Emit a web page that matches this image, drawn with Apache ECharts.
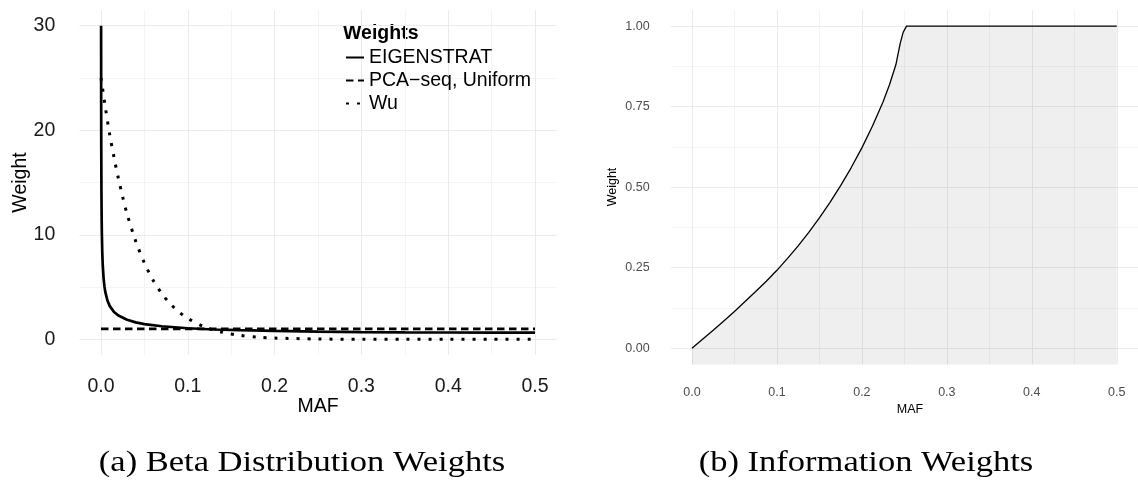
<!DOCTYPE html>
<html><head><meta charset="utf-8">
<script src="https://cdn.jsdelivr.net/npm/echarts@6/dist/echarts.min.js"></script>
<style>html,body{margin:0;padding:0;background:#fff}#c{width:1138px;height:482px}</style>
</head><body><div id="c"></div>
<script>
// ---- tick positions ----
const mafTicks = [0, 0.1, 0.2, 0.3, 0.4, 0.5];
const mafMinor = [0.05, 0.15, 0.25, 0.35, 0.45];
const betaTicks = [0, 10, 20, 30];
const betaMinor = [5, 15, 25];
const infoTicks = [0, 0.25, 0.5, 0.75, 1];
const infoMinor = [0.125, 0.375, 0.625, 0.875];

// ---- legend / series names ----
const betaNames = ['EIGENSTRAT', 'PCA\u2212seq, Uniform', 'Wu'];

// ---- (a) Beta distribution weights ----
const eigenMaf = [0.000113, 0.0002, 0.0003, 0.0005, 0.00075, 0.001, 0.0015, 0.002, 0.003, 0.004, 0.005, 0.0075, 0.01, 0.015, 0.02, 0.03, 0.04, 0.05, 0.07, 0.1, 0.13, 0.16, 0.2, 0.25, 0.3, 0.35, 0.4, 0.45, 0.5];
const eigenWeight = [30.0, 22.5, 18.4, 14.2, 11.6, 10.07, 8.23, 7.13, 5.82, 5.04, 4.51, 3.69, 3.20, 2.62, 2.27, 1.87, 1.62, 1.46, 1.25, 1.06, 0.94, 0.87, 0.80, 0.735, 0.695, 0.668, 0.65, 0.64, 0.637];

const uniformMaf = [0, 0.5];
const uniformWeight = [1, 1];

const wuMaf = [0, 0.005, 0.01, 0.015, 0.02, 0.025, 0.03, 0.04, 0.05, 0.06, 0.07, 0.08, 0.09, 0.1, 0.12, 0.14, 0.16, 0.18, 0.2, 0.25, 0.3, 0.35, 0.4, 0.45, 0.5];
const wuWeight = [25, 22.2, 19.6, 17.4, 15.4, 13.6, 12.0, 9.39, 7.30, 5.66, 4.38, 3.38, 2.60, 2.00, 1.16, 0.67, 0.38, 0.21, 0.12, 0.03, 0.005, 0, 0, 0, 0];

// ---- (b) Information weights ----
const infoMaf = [0, 0.0125, 0.025, 0.0375, 0.05, 0.0625, 0.075, 0.0875, 0.1, 0.1125, 0.125, 0.1375, 0.15, 0.1625, 0.175, 0.1875, 0.2, 0.2125, 0.225, 0.2325, 0.24, 0.245, 0.2485, 0.2525, 0.3, 0.4, 0.5];
const infoWeight = [0, 0.028, 0.056, 0.085, 0.114, 0.145, 0.176, 0.208, 0.242, 0.279, 0.318, 0.360, 0.405, 0.453, 0.505, 0.561, 0.622, 0.690, 0.765, 0.818, 0.880, 0.945, 0.980, 1, 1, 1, 1];

const zip = (xs, ys) => xs.map((x, i) => [x, ys[i]]);

const SANS = '"Liberation Sans", Arial, sans-serif';
const SERIF = '"Liberation Serif", serif';
const MAJOR = '#ebebeb', MINOR = '#f4f4f4';

function axis(grid, min, max, vals, opt) {
  const major = opt.major;
  return {
    type: 'value', gridIndex: grid, min: min, max: max,
    axisLine: { show: false },
    axisTick: { show: false, customValues: vals },
    axisLabel: major ? {
      show: true, customValues: vals, margin: opt.margin,
      color: opt.color, fontSize: opt.fontSize, fontFamily: SANS,
      formatter: opt.fmt
    } : { show: false },
    splitLine: { show: true, lineStyle: { color: major ? MAJOR : MINOR, width: 1 } },
    splitArea: { show: false },
    z: major ? 1 : 0
  };
}

const chart = echarts.init(document.getElementById('c'), null, { renderer: 'canvas' });
const LBL = { color: '#1a1a1a', fontSize: 19.5 };
const LBL2 = { color: '#4d4d4d', fontSize: 12.5 };
const HIDE = { color: 'rgba(0,0,0,0)', opacity: 0, borderWidth: 0 };

chart.setOption({
  backgroundColor: '#ffffff',
  animation: false,
  grid: [
    { left: 79.3, top: 10, width: 477.4, height: 345 },
    { left: 670.7, top: 10, width: 479, height: 354.4 }
  ],
  xAxis: [
    axis(0, -0.025, 0.525, mafTicks, Object.assign({ major: true, margin: 22, fmt: v => v.toFixed(1) }, LBL)),
    axis(0, -0.025, 0.525, mafMinor, { major: false }),
    axis(1, -0.025, 0.525, mafTicks, Object.assign({ major: true, margin: 22, fmt: v => v.toFixed(1) }, LBL2)),
    axis(1, -0.025, 0.525, mafMinor, { major: false })
  ],
  yAxis: [
    axis(0, -1.5, 31.5, betaTicks, Object.assign({ major: true, margin: 24, fmt: v => String(v) }, LBL)),
    axis(0, -1.5, 31.5, betaMinor, { major: false }),
    axis(1, -0.05, 1.05, infoTicks, Object.assign({ major: true, margin: 21, fmt: v => v.toFixed(2) }, LBL2)),
    axis(1, -0.05, 1.05, infoMinor, { major: false })
  ],
  legend: {
    data: betaNames, orient: 'vertical', left: 345, top: 47.5, padding: 0,
    itemWidth: 18, itemHeight: 14, itemGap: 3, selectedMode: false,
    itemStyle: HIDE,
    textStyle: { fontFamily: SANS, fontSize: 19.5, color: '#000', lineHeight: 20 }
  },
  series: [
    { name: betaNames[0], type: 'line', xAxisIndex: 0, yAxisIndex: 0, data: zip(eigenMaf, eigenWeight),
      symbol: 'none', smooth: false, lineStyle: { color: '#000', width: 2.7, type: 'solid' }, itemStyle: HIDE, z: 5 },
    { name: betaNames[1], type: 'line', xAxisIndex: 0, yAxisIndex: 0, data: zip(uniformMaf, uniformWeight),
      symbol: 'none', lineStyle: { color: '#000', width: 2.7, type: [7.5, 4.5] }, itemStyle: HIDE, z: 5 },
    { name: betaNames[2], type: 'line', xAxisIndex: 0, yAxisIndex: 0, data: zip(wuMaf, wuWeight),
      symbol: 'none', smooth: 0.3, lineStyle: { color: '#000', width: 3, type: [3, 8] }, itemStyle: HIDE, z: 5 },
    { name: 'Information', type: 'line', xAxisIndex: 2, yAxisIndex: 2, data: zip(infoMaf, infoWeight),
      symbol: 'none', smooth: false, lineStyle: { color: '#000', width: 1.3 },
      areaStyle: { color: 'rgba(0,0,0,0.09)', origin: 'start' }, z: 5 }
  ],
  graphic: [
    { type: 'text', x: 343, y: 33.3, style: { text: 'Weights', font: 'bold 19.5px ' + SANS, fill: '#000', verticalAlign: 'middle', align: 'left' } },
    { type: 'text', x: 21, y: 182.5, rotation: Math.PI / 2, style: { text: 'Weight', font: '19.5px ' + SANS, fill: '#000', verticalAlign: 'middle', align: 'center' } },
    { type: 'text', x: 318, y: 407, style: { text: 'MAF', font: '19.5px ' + SANS, fill: '#000', verticalAlign: 'middle', align: 'center' } },
    { type: 'text', x: 612.6, y: 187, rotation: Math.PI / 2, style: { text: 'Weight', font: '12.5px ' + SANS, fill: '#000', verticalAlign: 'middle', align: 'center' } },
    { type: 'text', x: 910, y: 410, style: { text: 'MAF', font: '12.5px ' + SANS, fill: '#000', verticalAlign: 'middle', align: 'center' } },
    { type: 'text', x: 302, y: 463, scaleX: 1.15, style: { text: '(a) Beta Distribution Weights', font: '30px ' + SERIF, fill: '#000', verticalAlign: 'middle', align: 'center' } },
    { type: 'text', x: 866, y: 463, scaleX: 1.15, style: { text: '(b) Information Weights', font: '30px ' + SERIF, fill: '#000', verticalAlign: 'middle', align: 'center' } }
  ]
});
</script>
</body></html>
